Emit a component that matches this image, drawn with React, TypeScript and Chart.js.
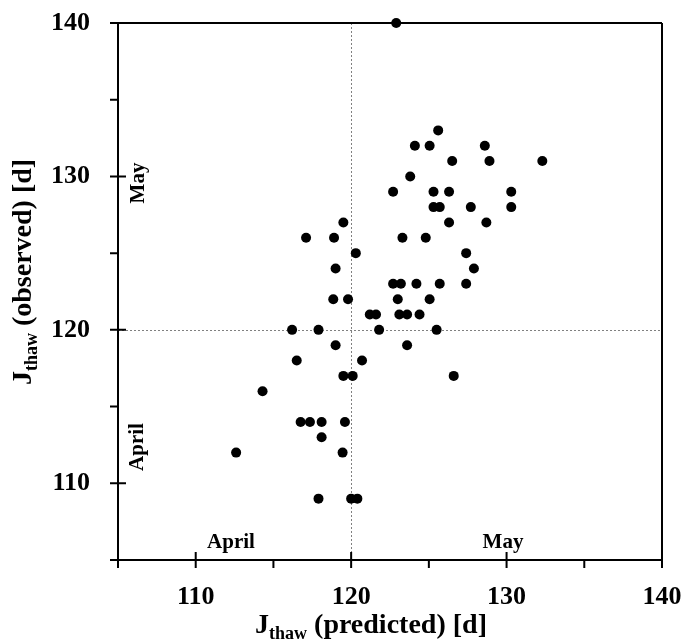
import React, { useEffect, useRef } from 'react';
import { Chart, registerables } from 'chart.js';

Chart.register(...registerables);

// J_thaw predicted (x) and observed (y), in days
const predicted = [
  122.9, 122.7, 119.5, 117.1, 118.9, 120.3, 119.0, 118.85, 119.8, 121.2,
  121.6, 123.1, 123.6, 124.4, 125.6, 124.1, 125.05, 128.6, 126.5, 128.9,
  132.3, 123.8, 125.3, 126.3, 130.3, 125.3, 125.7, 127.7, 130.3, 126.3,
  128.7, 123.3, 124.8, 127.4, 127.9, 122.7, 123.2, 124.2, 125.7, 127.4,
  123.0, 125.05, 116.2, 117.9, 121.8, 125.5, 119.0, 123.6, 116.5, 120.7,
  119.5, 120.1, 126.6, 114.3, 116.75, 117.35, 118.1, 119.6, 118.1, 112.6,
  119.45, 117.9, 120.0, 120.4,
];
const observed = [
  140, 129, 127, 126, 126, 125, 124, 122, 122, 121,
  121, 121, 121, 121, 133, 132, 132, 132, 131, 131,
  131, 130, 129, 129, 129, 128, 128, 128, 128, 127,
  127, 126, 126, 125, 124, 123, 123, 123, 123, 123,
  122, 122, 120, 120, 120, 120, 119, 119, 118, 118,
  117, 117, 117, 116, 114, 114, 114, 114, 113, 112,
  112, 109, 109, 109,
];

const axisMin = 105;
const axisMax = 140;
const tickStep = 5;
const labelStep = 10;
const refValue = 120;
const xTitle = ['J', 'thaw', ' (predicted) [d]'];
const yTitle = ['J', 'thaw', ' (observed) [d]'];
const monthEarly = 'April';
const monthLate = 'May';

const SERIF = "'Liberation Serif', 'Times New Roman', Times, serif";

function drawSubTitle(ctx: CanvasRenderingContext2D, parts: string[], cx: number, baseY: number) {
  const big = `bold 28px ${SERIF}`;
  const small = `bold 18px ${SERIF}`;
  ctx.font = big;
  const w0 = ctx.measureText(parts[0]).width;
  const w2 = ctx.measureText(parts[2]).width;
  ctx.font = small;
  const w1 = ctx.measureText(parts[1]).width;
  let x = cx - (w0 + w1 + w2) / 2;
  ctx.textAlign = 'left';
  ctx.textBaseline = 'alphabetic';
  ctx.font = big;
  ctx.fillText(parts[0], x, baseY);
  x += w0;
  ctx.font = small;
  ctx.fillText(parts[1], x, baseY + 6);
  x += w1;
  ctx.font = big;
  ctx.fillText(parts[2], x, baseY);
}

const framePlugin = {
  id: 'frame',
  beforeDatasetsDraw(chart: any) {
    const { ctx, chartArea, scales } = chart;
    const { left, right, top, bottom } = chartArea;
    const xs = scales.x;
    const ys = scales.y;
    ctx.save();

    // dotted reference lines
    ctx.strokeStyle = '#808080';
    ctx.lineWidth = 1;
    ctx.setLineDash([2, 2]);
    const rx = Math.round(xs.getPixelForValue(refValue)) + 0.5;
    const ry = Math.round(ys.getPixelForValue(refValue)) + 0.5;
    ctx.beginPath();
    ctx.moveTo(rx, top);
    ctx.lineTo(rx, bottom);
    ctx.moveTo(left, ry);
    ctx.lineTo(right, ry);
    ctx.stroke();
    ctx.setLineDash([]);

    // frame
    ctx.strokeStyle = '#000';
    ctx.lineWidth = 2;
    ctx.beginPath();
    ctx.moveTo(left - 8, top);
    ctx.lineTo(right, top);
    ctx.moveTo(right, top);
    ctx.lineTo(right, bottom + 8);
    ctx.moveTo(left - 8, bottom);
    ctx.lineTo(right, bottom);
    ctx.moveTo(left, top);
    ctx.lineTo(left, bottom + 6);
    ctx.stroke();

    // ticks
    ctx.beginPath();
    for (const t of ys.ticks) {
      const p = ys.getPixelForValue(t.value);
      const major = t.value % labelStep === 0;
      ctx.moveTo(left - 8, p);
      ctx.lineTo(major ? left + 8 : left, p);
    }
    for (const t of xs.ticks) {
      const p = xs.getPixelForValue(t.value);
      const major = t.value % labelStep === 0;
      ctx.moveTo(p, bottom + 8);
      ctx.lineTo(p, major && t.value !== axisMax ? bottom - 8 : bottom);
    }
    ctx.stroke();

    // month annotations
    ctx.fillStyle = '#000';
    ctx.font = `bold 21px ${SERIF}`;
    ctx.textBaseline = 'alphabetic';
    ctx.textAlign = 'center';
    ctx.fillText(monthEarly, 231, bottom - 12);
    ctx.fillText(monthLate, 503, bottom - 12);

    ctx.save();
    ctx.translate(left + 26, 183);
    ctx.rotate(-Math.PI / 2);
    ctx.fillText(monthLate, 0, 0);
    ctx.restore();
    ctx.save();
    ctx.translate(left + 25, 447);
    ctx.rotate(-Math.PI / 2);
    ctx.fillText(monthEarly, 0, 0);
    ctx.restore();

    // axis titles
    drawSubTitle(ctx, xTitle, 371, 633);
    ctx.save();
    ctx.translate(31, 272);
    ctx.rotate(-Math.PI / 2);
    drawSubTitle(ctx, yTitle, 0, 0);
    ctx.restore();

    ctx.restore();
  },
};

function zeroPadding(s: any) {
  s.paddingTop = 0;
  s.paddingBottom = 0;
  s.paddingLeft = 0;
  s.paddingRight = 0;
}

export default function App() {
  const ref = useRef<HTMLCanvasElement>(null);

  useEffect(() => {
    if (!ref.current) return;
    const points = predicted.map((p, i) => ({ x: p, y: observed[i] }));
    const tickFont = { family: SERIF, size: 26, weight: 'bold' as const };
    const labelCb = (v: any) => (Number(v) % labelStep === 0 ? String(v) : '');
    const chart = new Chart(ref.current, {
      type: 'scatter',
      data: {
        datasets: [
          {
            data: points,
            backgroundColor: '#000',
            borderColor: '#000',
            borderWidth: 0,
            pointRadius: 5,
            clip: false as any,
          },
        ],
      },
      options: {
        responsive: false,
        animation: false,
        layout: { padding: { left: 0, right: 21, top: 23, bottom: 0 } },
        plugins: { legend: { display: false }, tooltip: { enabled: false } },
        scales: {
          x: {
            type: 'linear',
            min: axisMin,
            max: axisMax,
            grid: { display: false },
            border: { display: false },
            ticks: {
              stepSize: tickStep,
              callback: labelCb,
              font: tickFont,
              color: '#000',
              padding: 14,
              maxRotation: 0,
              autoSkip: false,
            },
            afterFit: (s: any) => {
              s.height = 79;
              zeroPadding(s);
            },
          },
          y: {
            type: 'linear',
            min: axisMin,
            max: axisMax,
            grid: { display: false },
            border: { display: false },
            ticks: {
              stepSize: tickStep,
              callback: labelCb,
              font: tickFont,
              color: '#000',
              padding: 20,
              autoSkip: false,
            },
            afterFit: (s: any) => {
              s.width = 118;
              zeroPadding(s);
            },
          },
        },
      },
      plugins: [framePlugin],
    });
    return () => chart.destroy();
  }, []);

  return (
    <div style={{ position: 'fixed', left: 0, top: 0, width: 683, height: 639, background: '#fff' }}>
      <canvas ref={ref} width={683} height={639} style={{ display: 'block' }} />
    </div>
  );
}
